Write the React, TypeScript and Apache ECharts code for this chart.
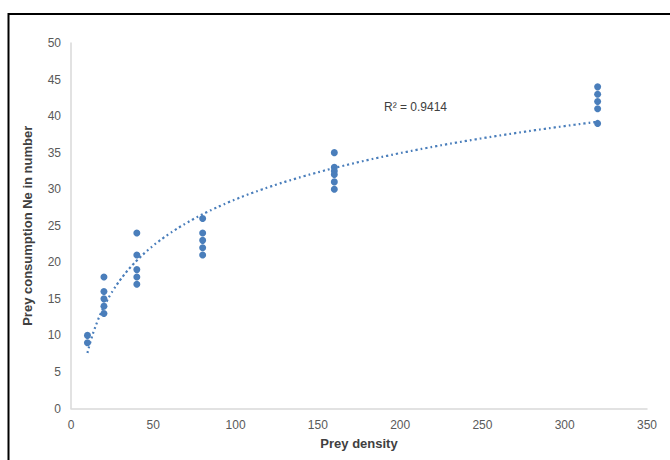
import React, { useEffect, useRef } from "react";
import * as echarts from "echarts";

const densities = [10, 20, 40, 80, 160, 320];
const consumption10 = [10, 9];
const consumption20 = [18, 16, 15, 14, 13];
const consumption40 = [24, 21, 19, 18, 17];
const consumption80 = [26, 24, 23, 22, 21];
const consumption160 = [35, 33, 32.5, 32, 31, 30];
const consumption320 = [44, 43, 42, 41, 39];
const groups = [consumption10, consumption20, consumption40, consumption80, consumption160, consumption320];
const rSquaredLabel = "R² = 0.9414";

export default function App() {
  const ref = useRef<HTMLDivElement>(null);
  useEffect(() => {
    if (!ref.current) return;
    const chart = echarts.init(ref.current, undefined, { renderer: "svg" });
    const points: number[][] = [];
    densities.forEach((d, i) => groups[i].forEach((v) => points.push([d, v])));
    // logarithmic least-squares trendline y = a ln(x) + b
    const n = points.length;
    const Ls = points.map((p) => Math.log(p[0]));
    const Lm = Ls.reduce((s, v) => s + v, 0) / n;
    const Ym = points.reduce((s, p) => s + p[1], 0) / n;
    let sxy = 0, sxx = 0;
    points.forEach((p, i) => { sxy += (Ls[i] - Lm) * (p[1] - Ym); sxx += (Ls[i] - Lm) ** 2; });
    const a = sxy / sxx;
    const b = Ym - a * Lm;
    const trend: number[][] = [];
    for (let x = densities[0]; x <= densities[densities.length - 1]; x += 2) trend.push([x, a * Math.log(x) + b]);
    const font = "Liberation Sans, Arial, sans-serif";
    chart.setOption({
      animation: false,
      backgroundColor: "#fff",
      grid: { left: 71, right: 23, top: 43, bottom: 51.5 },
      xAxis: {
        type: "value", min: 0, max: 350, interval: 50,
        name: "Prey density", nameLocation: "middle", nameGap: 28,
        nameTextStyle: { fontFamily: font, fontWeight: "bold", fontSize: 13, color: "#404040" },
        axisLine: { show: true, lineStyle: { color: "#d9d9d9", width: 1.5 } },
        axisTick: { show: false },
        splitLine: { show: false },
        axisLabel: { fontFamily: font, fontSize: 12, color: "#595959", margin: 10 },
      },
      yAxis: {
        type: "value", min: 0, max: 50, interval: 5,
        name: "Prey consumption Ne in number", nameLocation: "middle", nameGap: 37,
        nameTextStyle: { fontFamily: font, fontWeight: "bold", fontSize: 13, color: "#404040" },
        axisLine: { show: true, lineStyle: { color: "#d9d9d9", width: 1.5 } },
        axisTick: { show: false },
        splitLine: { show: false },
        axisLabel: { fontFamily: font, fontSize: 12, color: "#595959", margin: 10 },
      },
      series: [
        {
          type: "line", data: trend, showSymbol: false, symbol: "none", smooth: true,
          lineStyle: { color: "#4a7ebb", width: 2.2, type: [2, 3] }, z: 1,
        },
        {
          type: "scatter", data: points, symbolSize: 7,
          itemStyle: { color: "#4a7ebb", opacity: 1 }, z: 2,
        },
      ],
      graphic: [
        { type: "rect", shape: { x: 8.5, y: 14, width: 700, height: 500 }, style: { fill: "none", stroke: "#000", lineWidth: 2 }, silent: true },
        { type: "text", left: 384, top: 101, style: { text: rSquaredLabel, fontFamily: font, fontSize: 12, fill: "#404040" } },
      ],
    });
    return () => chart.dispose();
  }, []);
  return <div ref={ref} style={{ position: "fixed", left: 0, top: 0, width: 670, height: 460 }} />;
}
